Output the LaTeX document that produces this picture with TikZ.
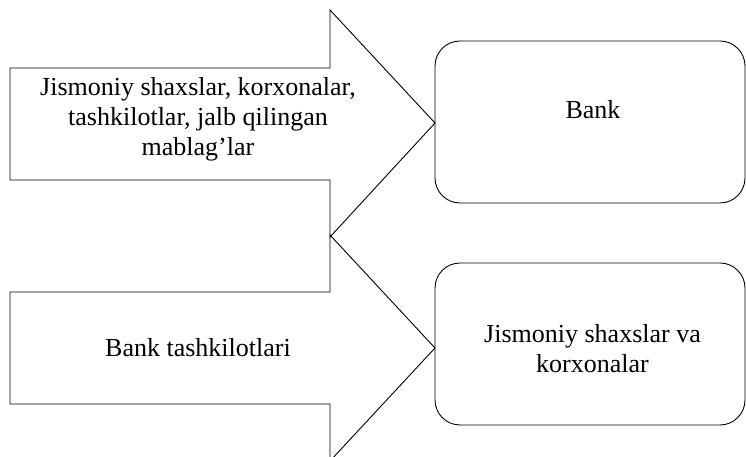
\documentclass[tikz,border=0pt]{standalone}
\usepackage{fontspec}
\setmainfont{Liberation Serif}
\begin{document}
\begin{tikzpicture}[x=1pt,y=1pt,
  shp/.style={draw=black,line width=0.9pt,line join=miter},
  lbl/.style={align=center,font=\fontsize{26}{30}\selectfont,inner sep=0pt},
  rbox/.style={draw=black,line width=0.9pt,rounded corners=25pt,inner sep=0pt}]
\useasboundingbox (0,0) rectangle (746,457);
\begin{scope}
\clip (0,0) rectangle (746,457);
% arrow 1
\draw[shp] (10,{457-68}) -- (330,{457-68}) -- (330,{457-10}) -- (435,{457-123})
  -- (330,{457-237}) -- (330,{457-180}) -- (10,{457-180}) -- cycle;
% arrow 2
\draw[shp] (10,{457-292}) -- (330,{457-292}) -- (330,{457-235}) -- (435,{457-348})
  -- (330,{457-461}) -- (330,{457-404}) -- (10,{457-404}) -- cycle;
\end{scope}
\node[lbl] (a1) at (198,{457-119}) {Jismoniy shaxslar, korxonalar,\\tashkilotlar, jalb qilingan\\mablag’lar};
\node[lbl] (a2) at (198,{457-348}) {Bank tashkilotlari};
\draw[rbox] (435,{457-41}) rectangle (745,{457-203});
\node[lbl] (b1) at (593,{457-109.5}) {Bank};
\draw[rbox] (435,{457-263}) rectangle (745,{457-425});
\node[lbl] (b2) at (592.5,{457-349}) {Jismoniy shaxslar va\\korxonalar};
\end{tikzpicture}
\end{document}
